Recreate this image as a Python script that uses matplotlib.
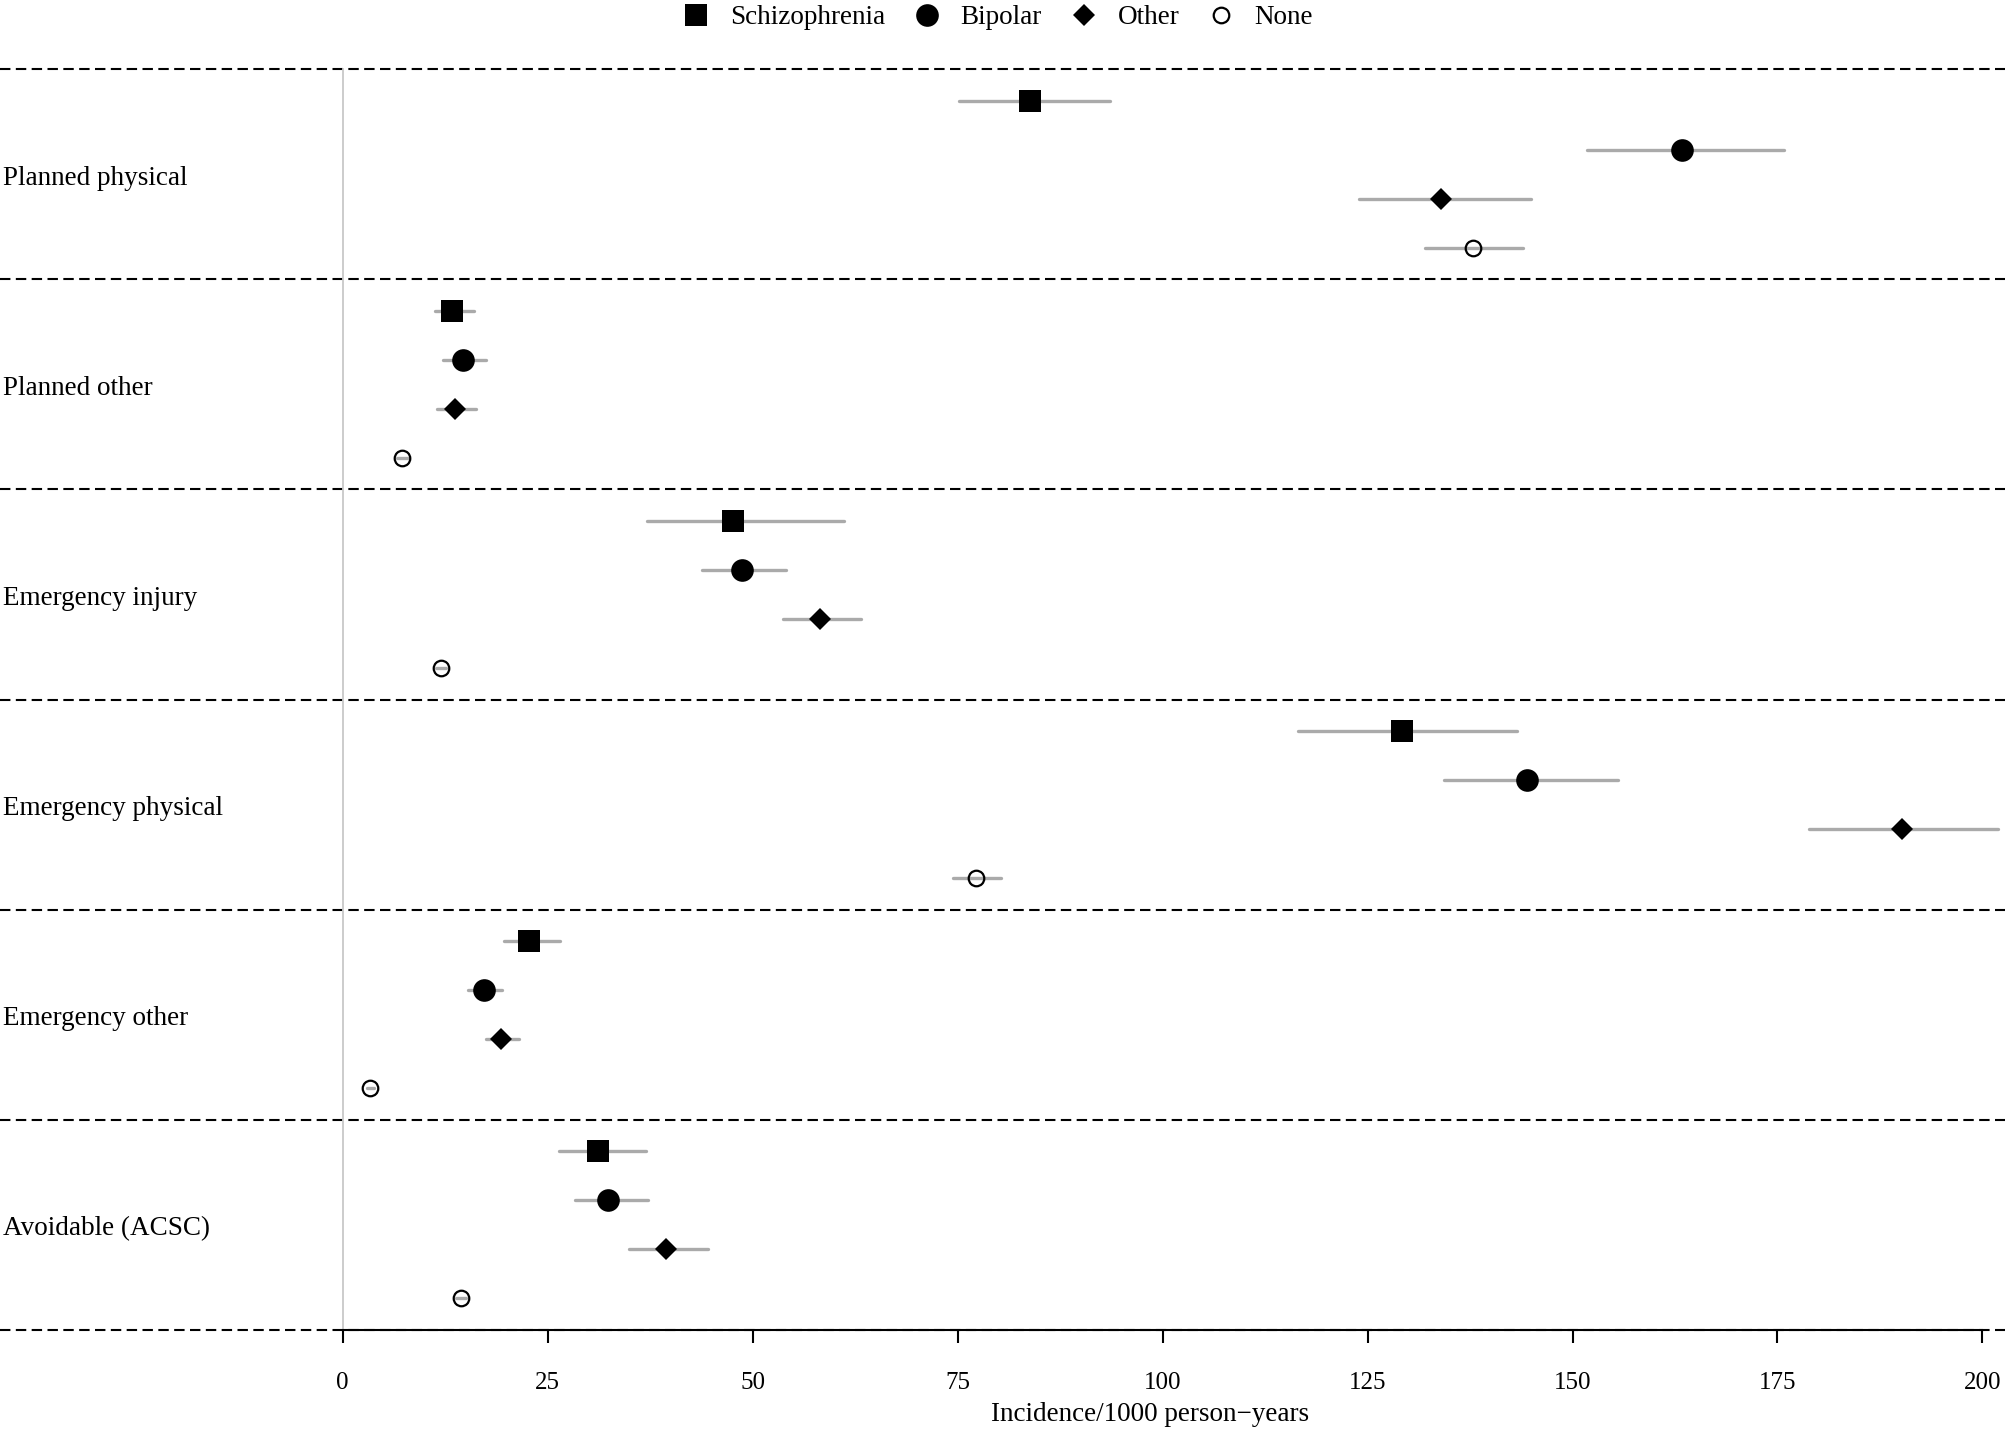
import matplotlib
matplotlib.use("Agg")
import matplotlib.pyplot as plt
from matplotlib.lines import Line2D
import numpy as np

plt.rcParams['font.family'] = ['Liberation Serif', 'DejaVu Serif']

categories = ["Planned physical", "Planned other", "Emergency injury",
              "Emergency physical", "Emergency other", "Avoidable (ACSC)"]
groups = ["Schizophrenia", "Bipolar", "Other", "None"]

est_schiz = [83.8, 13.4, 47.6, 129.2, 22.8, 31.2]
lo_schiz = [75.2, 11.3, 37.1, 116.5, 19.7, 26.4]
hi_schiz = [93.6, 16.0, 61.2, 143.2, 26.5, 37.0]

est_bip = [163.3, 14.7, 48.7, 144.5, 17.2, 32.4]
lo_bip = [151.8, 12.3, 43.8, 134.3, 15.3, 28.4]
hi_bip = [175.8, 17.5, 54.1, 155.5, 19.5, 37.3]

est_oth = [134.0, 13.7, 58.2, 190.2, 19.3, 39.5]
lo_oth = [124.0, 11.5, 53.7, 178.9, 17.5, 34.9]
hi_oth = [144.9, 16.3, 63.2, 201.9, 21.5, 44.6]

est_none = [137.9, 7.3, 12.0, 77.2, 3.4, 14.4]
lo_none = [132.0, 6.7, 11.4, 74.4, 3.0, 13.9]
hi_none = [144.0, 8.0, 12.6, 80.3, 3.9, 15.0]

xticks = [0, 25, 50, 75, 100, 125, 150, 175, 200]
xlabel = "Incidence/1000 person\u2212years"

series = [
    (est_schiz, lo_schiz, hi_schiz, dict(marker='s', ms=16, mfc='black', mec='black', mew=0)),
    (est_bip, lo_bip, hi_bip, dict(marker='o', ms=16.3, mfc='black', mec='black', mew=0)),
    (est_oth, lo_oth, hi_oth, dict(marker='D', ms=11.5, mfc='black', mec='black', mew=0)),
    (est_none, lo_none, hi_none, dict(marker='o', ms=11.2, mfc='none', mec='black', mew=1.6)),
]
offsets = [0.15, 0.3833, 0.6167, 0.85]

W, H = 2005, 1430
fig = plt.figure(figsize=(W / 100, H / 100), dpi=100)
top_px, bot_px = 69, 1330
ax = fig.add_axes([0, 1 - bot_px / H, 1, (bot_px - top_px) / H])

x0_px, x200_px = 342.5, 1982.5
ppu = (x200_px - x0_px) / 200
ax.set_xlim(-x0_px / ppu, (W - x0_px) / ppu)
ax.set_ylim(len(categories), 0)

# group separators
for b in range(len(categories) + 1):
    ax.axhline(b, color='black', lw=1.5, ls=(0, (5, 2.6)), clip_on=False, zorder=1)

# zero reference line
ax.plot([0, 0], [0, len(categories)], color='#c8c8c8', lw=1.3, zorder=1, clip_on=False)

for gi, (est, lo, hi, style) in enumerate(series):
    for ci in range(len(categories)):
        y = ci + offsets[gi]
        ax.plot([lo[ci], hi[ci]], [y, y], color='#aaaaaa', lw=2.4,
                solid_capstyle='round', zorder=2, clip_on=False)
        ax.plot([est[ci]], [y], ls='none', zorder=3, clip_on=False, **style)

for ci, cat in enumerate(categories):
    ax.text(-x0_px / ppu + 3.3 / ppu, ci + 0.5 + 0.05, cat, ha='left', va='baseline',
            fontsize=19.5)

for s in ['top', 'left', 'right']:
    ax.spines[s].set_visible(False)
ax.spines['bottom'].set_bounds(0, 200)
ax.spines['bottom'].set_linewidth(1.5)
ax.spines['bottom'].set_zorder(4)
ax.set_yticks([])
ax.set_xticks(xticks)
ax.set_xticklabels([str(t) for t in xticks])
ax.tick_params(axis='x', direction='out', length=9.5, width=1.5, pad=21,
               labelsize=18)
ax.patch.set_visible(False)

fig.text(1150 / W, 1 - 1421 / H, xlabel, ha='center', va='baseline', fontsize=19.5)

handles = [Line2D([], [], ls='none', **st[3]) for st in series]
fig.legend(handles, groups, loc='center', bbox_to_anchor=(998 / W, 1 - 18 / H),
           ncol=4, frameon=False, fontsize=19.5, handlelength=1.0,
           handletextpad=0.74, columnspacing=1.05, borderpad=0, borderaxespad=0)

fig.savefig("out.png", dpi=100)
